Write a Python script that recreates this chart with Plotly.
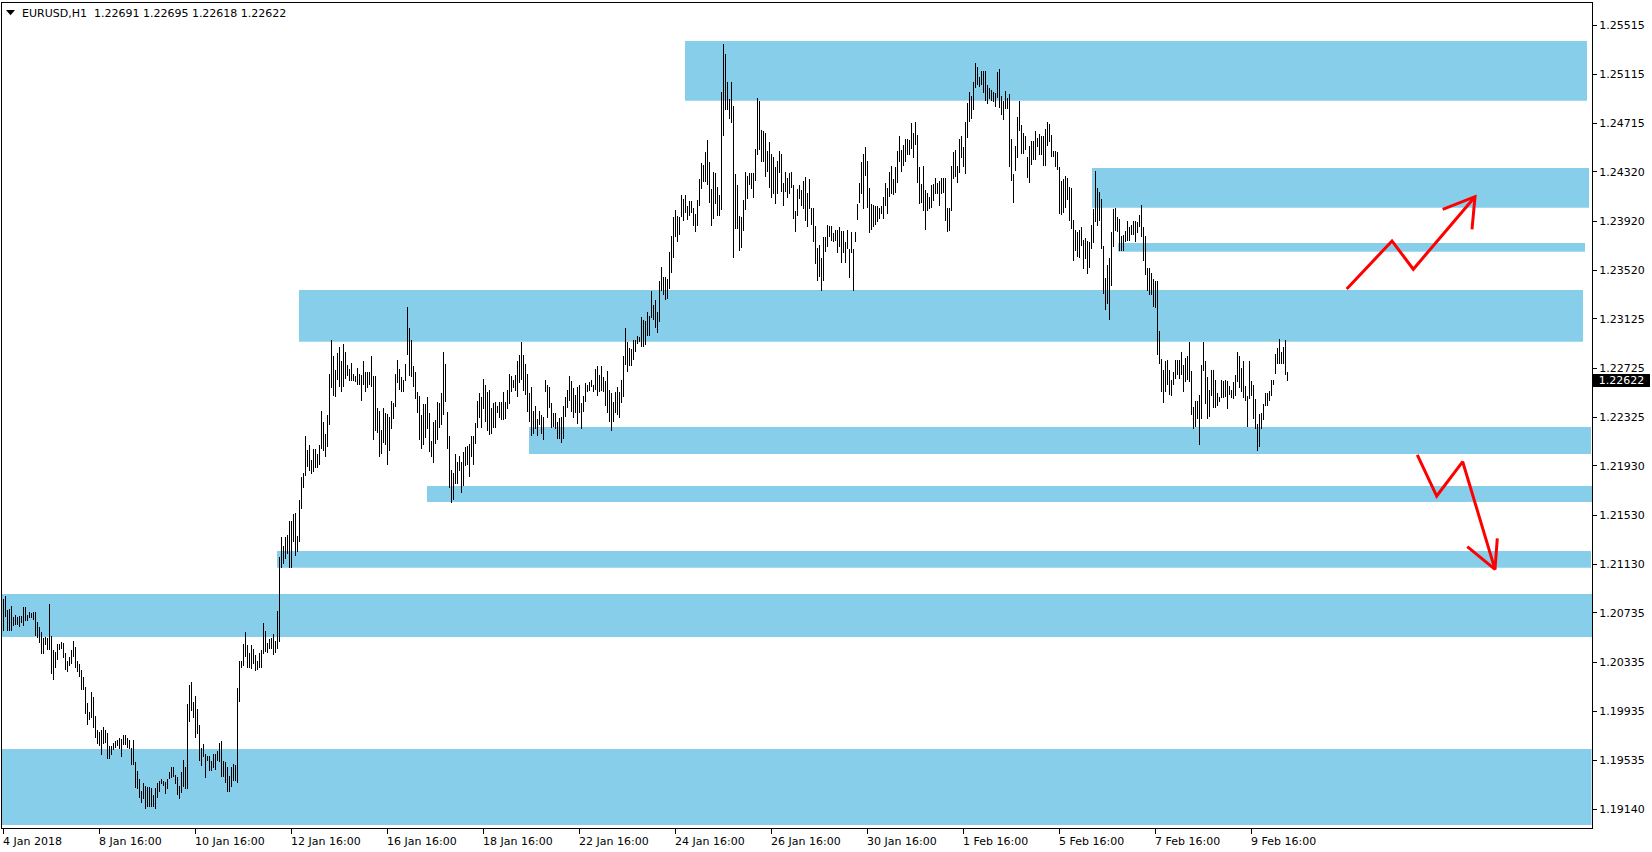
import plotly.graph_objects as go

# ---------------- data (EURUSD H1, one entry per hourly bar) ----------------
bar_high = [
1.2085,1.2087,1.2076,1.2077,1.2079,1.2070,1.2072,1.2070,1.2071,1.2071,
1.2078,1.2078,1.2072,1.2074,1.2073,1.2074,1.2074,1.2066,1.2062,1.2058,
1.2053,1.2054,1.2053,1.2081,1.2055,1.2043,1.2042,1.2048,1.2048,1.2050,
1.2049,1.2041,1.2034,1.2038,1.2043,1.2051,1.2046,1.2034,1.2032,1.2027,
1.2021,1.2013,1.2000,1.1993,1.2009,1.2005,1.1990,1.1978,1.1977,1.1978,
1.1981,1.1978,1.1976,1.1965,1.1965,1.1968,1.1969,1.1970,1.1972,1.1971,
1.1974,1.1974,1.1972,1.1970,1.1964,1.1970,1.1952,1.1945,1.1938,1.1929,
1.1935,1.1933,1.1932,1.1932,1.1931,1.1925,1.1931,1.1935,1.1937,1.1938,
1.1937,1.1936,1.1938,1.1944,1.1948,1.1948,1.1942,1.1940,1.1933,1.1944,
1.1954,1.1948,1.1999,1.2015,1.2017,1.2001,1.2006,1.1995,1.1982,1.1964,
1.1967,1.1959,1.1957,1.1957,1.1953,1.1959,1.1959,1.1961,1.1968,1.1969,
1.1953,1.1952,1.1948,1.1941,1.1948,1.1951,1.1950,1.2012,1.2034,1.2034,
1.2048,1.2058,1.2047,1.2041,1.2047,1.2044,1.2039,1.2034,1.2041,1.2043,
1.2065,1.2059,1.2049,1.2052,1.2053,1.2056,1.2051,1.2075,1.2119,
1.2135,1.2128,1.2135,1.2137,1.2148,1.2148,1.2154,1.2155,1.2136,1.2165,
1.2184,1.2187,1.2217,1.2206,1.2210,1.2198,1.2207,1.2207,1.2203,1.2210,
1.2238,1.2229,1.2219,1.2234,1.2268,1.2295,1.2282,1.2271,1.2285,1.2290,
1.2278,1.2292,1.2286,1.2275,1.2272,1.2277,1.2268,1.2266,1.2273,1.2268,
1.2267,1.2278,1.2269,1.2269,1.2269,1.2282,1.2266,1.2266,1.2240,1.2238,
1.2222,1.2240,1.2236,1.2235,1.2233,1.2246,1.2244,1.2268,1.2279,1.2272,
1.2265,1.2263,1.2276,1.2322,1.2305,1.2295,1.2274,1.2269,1.2253,1.2250,
1.2234,1.2243,1.2243,1.2249,1.2236,1.2213,1.2229,1.2230,1.2245,1.2244,
1.2252,1.2286,1.2276,1.2237,1.2217,1.2190,1.2187,1.2203,1.2196,1.2201,
1.2196,1.2204,1.2208,1.2209,1.2211,1.2217,1.2217,1.2228,1.2246,1.2252,
1.2249,1.2264,1.2259,1.2253,1.2255,1.2240,1.2244,1.2245,1.2242,1.2245,
1.2245,1.2253,1.2245,1.2255,1.2268,1.2266,1.2263,1.2267,1.2278,1.2283,
1.2294,1.2283,1.2276,1.2268,1.2252,1.2257,1.2238,1.2242,1.2231,1.2238,
1.2234,1.2233,1.2263,1.2259,1.2257,1.2244,1.2236,1.2236,1.2229,1.2232,
1.2233,1.2242,1.2249,1.2255,1.2266,1.2262,1.2256,1.2251,1.2257,1.2259,
1.2244,1.2250,1.2260,1.2259,1.2261,1.2263,1.2259,1.2272,1.2274,1.2267,
1.2274,1.2265,1.2262,1.2270,1.2255,1.2252,1.2245,1.2253,1.2257,1.2253,
1.2263,1.2282,1.2305,1.2294,1.2289,1.2288,1.2295,1.2295,1.2299,1.2298,
1.2314,1.2312,1.2311,1.2318,1.2315,1.2335,1.2324,1.2328,1.2318,1.2343,
1.2355,1.2347,1.2347,1.2345,1.2367,1.2380,
1.2395,1.2401,1.2396,1.2395,1.2413,1.2410,
1.2413,1.2404,1.2408,1.2408,1.2403,1.2398,1.2409,1.2426,
1.2439,1.2438,1.2448,1.2458,1.2440,1.2418,1.2432,1.2431,1.2420,1.2413,
1.2497,1.2536,1.2528,1.2505,1.2491,1.2505,1.2486,1.2430,1.2421,1.2396,
1.2395,1.2409,1.2432,1.2429,1.2431,1.2431,1.2431,1.2451,1.2492,1.2490,
1.2466,1.2465,1.2464,1.2449,1.2456,1.2447,1.2444,1.2436,1.2441,1.2449,
1.2447,1.2423,1.2432,1.2427,1.2431,1.2432,1.2421,1.2400,1.2418,1.2421,
1.2417,1.2425,1.2428,1.2415,1.2426,1.2403,1.2403,1.2388,1.2370,1.2373,
1.2362,1.2379,1.2379,1.2389,1.2388,1.2388,1.2382,1.2385,1.2385,1.2387,
1.2384,1.2384,1.2375,1.2385,1.2369,1.2383,1.2369,1.2383,1.2406,1.2423,
1.2440,1.2447,1.2452,1.2441,1.2419,1.2406,1.2405,1.2404,1.2404,1.2403,
1.2404,1.2412,1.2423,1.2419,1.2432,1.2437,1.2426,1.2436,1.2449,1.2461,
1.2450,1.2454,1.2459,1.2459,1.2458,1.2472,1.2464,1.2473,1.2462,1.2436,
1.2422,1.2437,1.2417,1.2415,1.2412,1.2421,1.2422,1.2427,1.2423,1.2425,
1.2427,1.2427,1.2427,1.2403,1.2403,1.2437,1.2448,1.2450,1.2437,1.2459,
1.2461,1.2452,1.2473,1.2488,1.2497,1.2494,1.2505,1.2521,1.2517,1.2509,
1.2514,1.2514,1.2514,1.2503,1.2500,1.2499,1.2497,1.2496,1.2513,1.2516,
1.2494,1.2490,1.2498,1.2492,1.2495,1.2459,1.2430,1.2453,1.2477,1.2490,
1.2470,1.2464,1.2461,1.2444,1.2453,1.2457,1.2457,1.2465,1.2460,1.2463,
1.2461,1.2461,1.2467,1.2473,
1.2471,1.2462,1.2449,1.2449,1.2448,1.2436,
1.2425,1.2426,1.2429,1.2427,1.2420,1.2419,1.2393,1.2385,1.2383,1.2385,
1.2387,1.2377,1.2378,1.2376,1.2375,1.2389,1.2402,1.2433,1.2419,1.2416,
1.2410,1.2372,1.2346,1.2356,1.2362,1.2383,1.2402,1.2403,1.2395,1.2394,
1.2380,1.2381,1.2384,1.2392,1.2387,1.2389,1.2392,1.2392,1.2391,1.2397,
1.2405,1.2387,1.2380,1.2354,1.2354,1.2350,1.2345,1.2343,1.2343,1.2303,
1.2280,1.2271,1.2278,1.2279,1.2271,1.2263,1.2269,1.2279,1.2279,1.2279,
1.2286,1.2275,1.2281,1.2282,1.2294,1.2270,1.2241,1.2246,1.2246,1.2251,
1.2275,1.2294,1.2278,1.2265,1.2255,1.2271,1.2271,1.2263,1.2252,1.2249,
1.2263,1.2262,1.2263,1.2262,1.2258,1.2255,1.2261,1.2267,1.2286,1.2282,
1.2273,1.2278,1.2258,1.2250,1.2278,1.2262,1.2259,1.2247,1.2227,1.2235,
1.2236,1.2243,1.2252,1.2252,1.2254,1.2263,1.2263,1.2284,1.2289,1.2296,
1.2286,1.2290,1.2295,1.22695,
]

bar_low = [
1.2059,1.2070,1.2059,1.2059,1.2059,1.2063,1.2064,1.2064,1.2062,1.2065,
1.2063,1.2067,1.2067,1.2069,1.2069,1.2068,1.2055,1.2053,1.2049,1.2040,
1.2040,1.2047,1.2043,1.2043,1.2024,1.2019,1.2029,1.2035,1.2043,1.2044,
1.2037,1.2027,1.2025,1.2030,1.2032,1.2038,1.2029,1.2025,1.2021,1.2011,
1.2011,1.1991,1.1982,1.1986,1.1988,1.1980,1.1972,1.1967,1.1965,1.1958,
1.1967,1.1968,1.1955,1.1955,1.1958,1.1962,1.1964,1.1965,1.1963,1.1956,
1.1966,1.1966,1.1964,1.1963,1.1950,1.1950,1.1931,1.1930,1.1923,1.1919,
1.1922,1.1914,1.1916,1.1916,1.1916,1.1916,1.1914,1.1923,1.1928,1.1934,
1.1933,1.1926,1.1930,1.1938,1.1939,1.1940,1.1934,1.1925,1.1922,1.1927,
1.1932,1.1930,1.1930,1.1985,1.1994,1.1988,1.1972,1.1975,1.1953,1.1949,
1.1956,1.1939,1.1953,1.1945,1.1945,1.1947,1.1946,1.1953,1.1952,1.1940,
1.1940,1.1935,1.1928,1.1928,1.1932,1.1937,1.1937,1.1935,1.2001,1.2029,
1.2030,1.2038,1.2029,1.2029,1.2028,1.2032,1.2026,1.2027,1.2029,1.2029,
1.2040,1.2042,1.2041,1.2044,1.2044,1.2039,1.2041,1.2044,1.2050,
1.2110,1.2113,1.2117,1.2121,1.2110,1.2110,1.2131,1.2120,1.2123,1.2131,
1.2158,1.2175,1.2185,1.2192,1.2189,1.2186,1.2188,1.2191,1.2191,1.2194,
1.2207,1.2205,1.2200,1.2208,1.2226,1.2256,1.2250,1.2249,1.2263,1.2257,
1.2253,1.2257,1.2264,1.2266,1.2262,1.2262,1.2262,1.2261,1.2259,1.2259,
1.2246,1.2259,1.2253,1.2256,1.2259,1.2257,1.2214,1.2221,1.2220,1.2200,
1.2203,1.2212,1.2210,1.2194,1.2205,1.2223,1.2231,1.2241,1.2260,1.2255,
1.2253,1.2253,1.2262,1.2283,1.2266,1.2265,1.2257,1.2247,1.2236,1.2214,
1.2207,1.2210,1.2216,1.2223,1.2204,1.2200,1.2195,1.2211,1.2214,1.2224,
1.2226,1.2234,1.2245,1.2207,1.2175,1.2163,1.2165,1.2178,1.2178,1.2189,
1.2171,1.2177,1.2193,1.2194,1.2184,1.2200,1.2194,1.2211,1.2224,1.2232,
1.2224,1.2239,1.2229,1.2221,1.2218,1.2219,1.2224,1.2224,1.2236,1.2232,
1.2230,1.2230,1.2231,1.2239,1.2243,1.2253,1.2256,1.2254,1.2249,1.2260,
1.2263,1.2254,1.2251,1.2237,1.2229,1.2217,1.2219,1.2223,1.2217,1.2226,
1.2219,1.2214,1.2253,1.2232,1.2240,1.2224,1.2225,1.2223,1.2215,1.2215,
1.2212,1.2215,1.2233,1.2240,1.2246,1.2237,1.2232,1.2236,1.2227,1.2236,
1.2223,1.2237,1.2245,1.2253,1.2254,1.2257,1.2253,1.2255,1.2250,1.2253,
1.2254,1.2253,1.2242,1.2236,1.2229,1.2221,1.2229,1.2236,1.2234,1.2232,
1.2244,1.2249,1.2275,1.2269,1.2274,1.2274,1.2279,1.2286,1.2292,1.2294,
1.2290,1.2290,1.2291,1.2299,1.2299,1.2313,1.2312,1.2305,1.2301,1.2310,
1.2335,1.2332,1.2328,1.2329,1.2337,1.2350,
1.2362,1.2379,1.2375,1.2381,1.2395,1.2392,
1.2399,1.2393,1.2396,1.2399,1.2388,1.2383,1.2388,1.2404,
1.2418,1.2424,1.2424,1.2421,1.2407,1.2388,1.2394,1.2406,1.2396,1.2396,
1.2401,1.2461,1.2482,1.2482,1.2475,1.2472,1.2362,1.2386,1.2386,1.2368,
1.2370,1.2384,1.2401,1.2410,1.2421,1.2418,1.2411,1.2425,1.2446,1.2450,
1.2440,1.2440,1.2428,1.2432,1.2419,1.2411,1.2414,1.2406,1.2414,1.2431,
1.2416,1.2404,1.2416,1.2411,1.2414,1.2419,1.2394,1.2383,1.2396,1.2410,
1.2404,1.2402,1.2392,1.2387,1.2402,1.2389,1.2375,1.2357,1.2343,1.2347,
1.2335,1.2343,1.2367,1.2371,1.2379,1.2376,1.2375,1.2376,1.2366,1.2371,
1.2358,1.2366,1.2358,1.2369,1.2346,1.2366,1.2335,1.2375,1.2393,1.2407,
1.2414,1.2402,1.2429,1.2403,1.2382,1.2385,1.2387,1.2389,1.2391,1.2394,
1.2398,1.2394,1.2404,1.2398,1.2412,1.2414,1.2413,1.2415,1.2423,1.2440,
1.2432,1.2437,1.2440,1.2446,1.2446,1.2451,1.2443,1.2454,1.2423,1.2406,
1.2407,1.2400,1.2385,1.2400,1.2402,1.2403,1.2408,1.2414,1.2414,1.2404,
1.2414,1.2415,1.2392,1.2383,1.2384,1.2400,1.2426,1.2428,1.2423,1.2431,
1.2443,1.2436,1.2430,1.2460,1.2473,1.2475,1.2482,1.2500,1.2503,1.2501,
1.2503,1.2496,1.2490,1.2487,1.2491,1.2490,1.2489,1.2485,1.2492,1.2484,
1.2478,1.2474,1.2483,1.2483,1.2436,1.2425,1.2407,1.2433,1.2443,1.2465,
1.2447,1.2447,1.2450,1.2427,1.2423,1.2438,1.2442,1.2442,1.2452,1.2446,
1.2446,1.2437,1.2437,1.2453,
1.2456,1.2444,1.2444,1.2436,1.2434,1.2398,
1.2397,1.2399,1.2403,1.2409,1.2392,1.2386,1.2360,1.2368,1.2363,1.2362,
1.2372,1.2353,1.2361,1.2349,1.2354,1.2369,1.2374,1.2391,1.2388,1.2392,
1.2369,1.2333,1.2320,1.2325,1.2312,1.2339,1.2371,1.2384,1.2383,1.2368,
1.2368,1.2368,1.2375,1.2376,1.2376,1.2381,1.2381,1.2375,1.2382,1.2387,
1.2379,1.2360,1.2348,1.2335,1.2332,1.2332,1.2322,1.2321,1.2283,1.2276,
1.2253,1.2244,1.2253,1.2259,1.2251,1.2250,1.2259,1.2264,1.2267,1.2264,
1.2267,1.2253,1.2261,1.2263,1.2261,1.2234,1.2223,1.2225,1.2231,1.2210,
1.2231,1.2270,1.2243,1.2231,1.2233,1.2250,1.2240,1.2240,1.2242,1.2245,
1.2248,1.2248,1.2249,1.2239,1.2251,1.2248,1.2247,1.2250,1.2261,1.2256,
1.2253,1.2248,1.2246,1.2225,1.2247,1.2250,1.2231,1.2223,1.2205,1.2208,
1.2223,1.2230,1.2242,1.2242,1.2246,1.2250,1.2259,1.2268,1.2276,1.2276,
1.2276,1.2276,1.2267,1.22618,
]

x_tick_bars = [0, 48, 96, 144, 192, 240, 288, 336, 384, 432, 480, 528, 576, 624]
x_tick_labels = ["4 Jan 2018", "8 Jan 16:00", "10 Jan 16:00", "12 Jan 16:00",
                 "16 Jan 16:00", "18 Jan 16:00", "22 Jan 16:00", "24 Jan 16:00",
                 "26 Jan 16:00", "30 Jan 16:00", "1 Feb 16:00", "5 Feb 16:00",
                 "7 Feb 16:00", "9 Feb 16:00"]

y_tick_values = [1.25515, 1.25115, 1.24715, 1.24320, 1.23920, 1.23520, 1.23125,
                 1.22725, 1.22325, 1.21930, 1.21530, 1.21130, 1.20735, 1.20335,
                 1.19935, 1.19535, 1.19140]
y_tick_labels = ["%.5f" % v for v in y_tick_values]

# supply / demand zones: (start bar, end bar, lower price, upper price)
zone_bar_start = [340.75, 544.25, 557.25, 147.75, 262.75, 211.75, 136.75, -0.75, -0.75]
zone_bar_end   = [791.75, 792.75, 790.75, 789.75, 793.75, 794.25, 793.75, 794.25, 794.0]
zone_low       = [1.24899, 1.24029, 1.23672, 1.22940, 1.22027, 1.21636, 1.21102, 1.20539, 1.19010]
zone_high      = [1.25385, 1.24352, 1.23742, 1.23360, 1.22246, 1.21766, 1.21238, 1.20888, 1.19628]

# hand-drawn red arrows (bar position, price)
up_arrow_bar   = [671.6, 694.25, 704.9, 735.75]
up_arrow_price = [1.23368, 1.23759, 1.23529, 1.24119]
up_head_bar    = [719.6, 735.75, 734.25]
up_head_price  = [1.24016, 1.24119, 1.23854]
dn_arrow_bar   = [706.9, 716.6, 729.6, 745.75]
dn_arrow_price = [1.22019, 1.21685, 1.21964, 1.21089]
dn_head_bar    = [731.9, 745.75, 746.9]
dn_head_price  = [1.21273, 1.21089, 1.21341]

symbol_text = "EURUSD,H1  1.22691 1.22695 1.22618 1.22622"
last_price = 1.22622

# ---------------- figure ----------------
FONT = "DejaVu Sans"
W, H = 1652, 852
ML, MR, MT, MB = 2, 60, 3, 24
X_RANGE = [-0.75, 794.25]
Y_RANGE = [1.189855, 1.256939]

n = min(len(bar_high), len(bar_low))
bx, by = [], []
for i in range(n):
    bx += [i, i, None]
    by += [bar_low[i], bar_high[i], None]

fig = go.Figure()
fig.add_trace(go.Scatter(x=bx, y=by, mode="lines",
                         line=dict(color="black", width=1),
                         hoverinfo="skip", showlegend=False))

for bxs, bys in [(up_arrow_bar, up_arrow_price), (up_head_bar, up_head_price),
                 (dn_arrow_bar, dn_arrow_price), (dn_head_bar, dn_head_price)]:
    fig.add_trace(go.Scatter(x=bxs, y=bys, mode="lines",
                             line=dict(color="#FF0000", width=3),
                             hoverinfo="skip", showlegend=False))

shapes = []
for x0, x1, p0, p1 in zip(zone_bar_start, zone_bar_end, zone_low, zone_high):
    shapes.append(dict(type="rect", xref="x", yref="y", x0=x0, x1=x1, y0=p0, y1=p1,
                       fillcolor="#87CEEB", line=dict(width=0), layer="below"))

plot_w = W - ML - MR
plot_h = H - MT - MB
def px(xp):
    return (xp - ML) / plot_w
def py(yp):
    return 1 - (yp - MT) / plot_h
shapes.append(dict(type="path", xref="paper", yref="paper",
                   path="M %f,%f L %f,%f L %f,%f Z" % (px(6), py(10), px(15), py(10), px(10.5), py(15.3)),
                   fillcolor="black", line=dict(width=0)))

annotations = [dict(xref="paper", yref="paper", x=0, y=1, xshift=19.7, yshift=-10,
                    xanchor="left", yanchor="middle", text=symbol_text, showarrow=False,
                    font=dict(family=FONT, size=11, color="black"), borderpad=0, borderwidth=0)]
for b, lab in zip(x_tick_bars, x_tick_labels):
    annotations.append(dict(xref="x", yref="paper", x=b, y=0, yshift=-13, xshift=-0.5,
                            xanchor="left", yanchor="middle", text=lab, showarrow=False,
                            font=dict(family=FONT, size=11, color="black"),
                            borderpad=0, borderwidth=0))
annotations.append(dict(xref="paper", yref="y", x=1, y=last_price, xshift=1,
                        xanchor="left", yanchor="middle", text="%.5f" % last_price,
                        showarrow=False, bgcolor="black", width=57, height=13,
                        align="center", borderpad=0, borderwidth=0,
                        font=dict(family=FONT, size=11, color="white")))

fig.update_layout(
    width=W, height=H,
    margin=dict(l=ML, r=MR, t=MT, b=MB, pad=0),
    paper_bgcolor="white", plot_bgcolor="white",
    shapes=shapes, annotations=annotations,
    showlegend=False,
    xaxis=dict(range=X_RANGE, showgrid=False, zeroline=False,
               showline=True, mirror=True, linecolor="black", linewidth=1,
               ticks="outside", ticklen=5, tickcolor="black", tickwidth=1,
               tickvals=x_tick_bars, showticklabels=False, fixedrange=True),
    yaxis=dict(range=Y_RANGE, side="right", showgrid=False, zeroline=False,
               showline=True, mirror=True, linecolor="black", linewidth=1,
               ticks="outside", ticklen=4, tickcolor="black", tickwidth=1,
               tickvals=y_tick_values, ticktext=y_tick_labels,
               tickfont=dict(family=FONT, size=11, color="black"), fixedrange=True),
)

fig.write_html("out.html",
               config={"displayModeBar": False, "staticPlot": True},
               post_script="document.body.style.margin='0px';"
                           "document.body.style.padding='0px';"
                           "document.body.style.overflow='hidden';"
                           "var t=document.querySelectorAll('.scatterlayer .trace');"
                           "if(t.length){t[0].querySelectorAll('path').forEach(function(p){"
                           "p.style.shapeRendering='crispEdges';});}")
